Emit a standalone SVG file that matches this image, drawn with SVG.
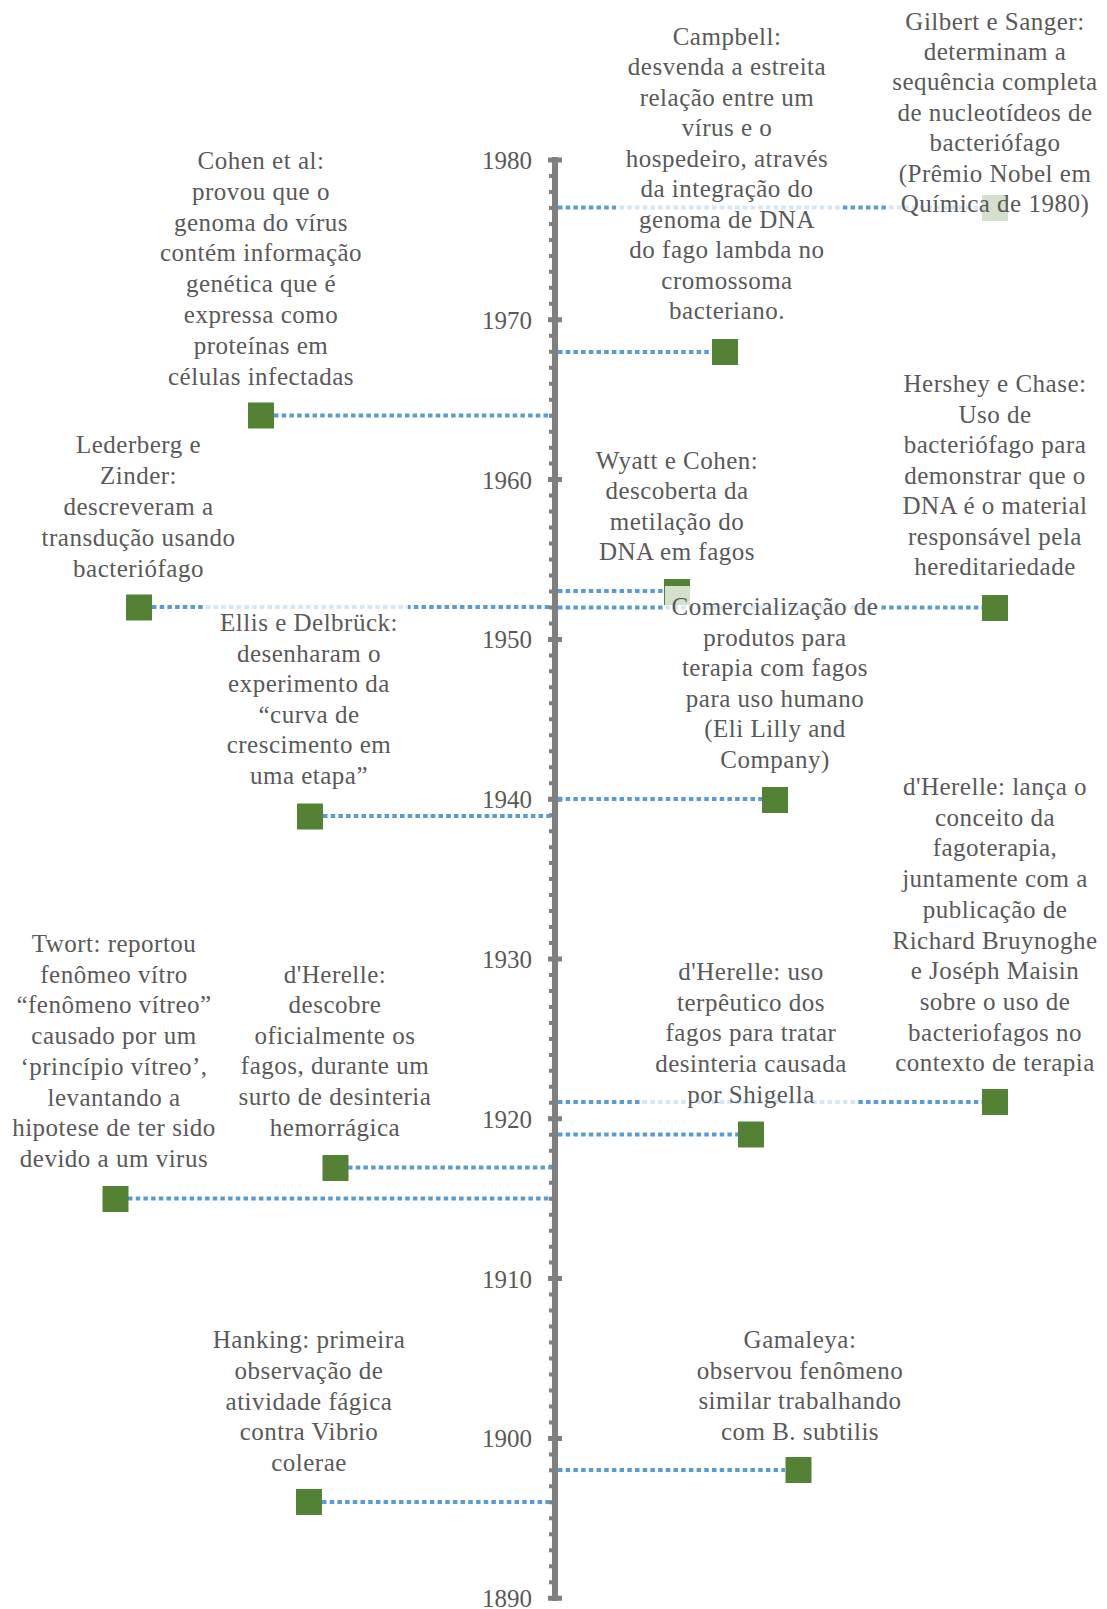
<svg xmlns="http://www.w3.org/2000/svg" width="1107" height="1609" viewBox="0 0 1107 1609">
<style>
.lbl{font-family:"Liberation Serif","Times New Roman",serif;font-size:25px;fill:#595959;text-anchor:middle;letter-spacing:0.5px}
.yr{font-family:"Liberation Serif","Times New Roman",serif;font-size:25px;fill:#595959;text-anchor:end}
.con{stroke:#5B9BD5;stroke-width:4;stroke-dasharray:4.5 3.2;fill:none}
.sq{fill:#548235}
.bg{fill:#FFFFFF;fill-opacity:0.75}
.ax{stroke:#7F7F7F;fill:none}
</style>
<rect width="1107" height="1609" fill="#FFFFFF"/>
<g id="axis">
<line class="ax" x1="555" y1="157" x2="555" y2="1601" stroke-width="6"/>
<line class="ax" x1="551" y1="158" x2="551" y2="1600" stroke-width="4" stroke-dasharray="4 11.98"/>
<path class="ax" stroke-width="5" d="M548 160H562M548 319.8H562M548 479.6H562M548 639.4H562M548 799.2H562M548 959H562M548 1118.8H562M548 1278.6H562M548 1438.4H562M548 1598.2H562"/>
<text class="yr" x="532" y="169">1980</text>
<text class="yr" x="532" y="329">1970</text>
<text class="yr" x="532" y="489">1960</text>
<text class="yr" x="532" y="648">1950</text>
<text class="yr" x="532" y="808">1940</text>
<text class="yr" x="532" y="968">1930</text>
<text class="yr" x="532" y="1128">1920</text>
<text class="yr" x="532" y="1288">1910</text>
<text class="yr" x="532" y="1447">1900</text>
<text class="yr" x="532" y="1607">1890</text>
</g>
<g id="connectors">
<line class="con" x1="558" y1="207.5" x2="982" y2="207.5"/>
<line class="con" x1="558" y1="352" x2="712" y2="352"/>
<line class="con" x1="274" y1="415.5" x2="552" y2="415.5"/>
<line class="con" x1="152" y1="607" x2="552" y2="607"/>
<line class="con" x1="558" y1="607.5" x2="982" y2="607.5"/>
<line class="con" x1="558" y1="591" x2="664" y2="591"/>
<line class="con" x1="558" y1="799" x2="762" y2="799"/>
<line class="con" x1="323" y1="816" x2="552" y2="816"/>
<line class="con" x1="558" y1="1102" x2="982" y2="1102"/>
<line class="con" x1="558" y1="1134.5" x2="738" y2="1134.5"/>
<line class="con" x1="348" y1="1167.5" x2="552" y2="1167.5"/>
<line class="con" x1="128" y1="1198.5" x2="552" y2="1198.5"/>
<line class="con" x1="558" y1="1470" x2="785" y2="1470"/>
<line class="con" x1="322" y1="1502" x2="552" y2="1502"/>
</g>
<g id="n-campbell">
<rect class="sq" x="712" y="339" width="26" height="26"/>
<rect class="bg" x="616" y="18" width="225" height="316"/>
<text class="lbl" y="44.5"><tspan x="727">Campbell:</tspan><tspan x="727" dy="30.5">desvenda a estreita</tspan><tspan x="727" dy="30.5">relação entre um</tspan><tspan x="727" dy="30.5">vírus e o</tspan><tspan x="727" dy="30.5">hospedeiro, através</tspan><tspan x="727" dy="30.5">da integração do</tspan><tspan x="727" dy="30.5">genoma de DNA</tspan><tspan x="727" dy="30.5">do fago lambda no</tspan><tspan x="727" dy="30.5">cromossoma</tspan><tspan x="727" dy="30.5">bacteriano.</tspan></text>
</g>
<g id="n-gilbert">
<rect class="sq" x="982" y="195" width="26" height="26"/>
<rect class="bg" x="887" y="4" width="218" height="220"/>
<text class="lbl" y="29.5"><tspan x="995">Gilbert e Sanger:</tspan><tspan x="995" dy="30.4">determinam a</tspan><tspan x="995" dy="30.4">sequência completa</tspan><tspan x="995" dy="30.4">de nucleotídeos de</tspan><tspan x="995" dy="30.4">bacteriófago</tspan><tspan x="995" dy="30.4">(Prêmio Nobel em</tspan><tspan x="995" dy="30.4">Química de 1980)</tspan></text>
</g>
<g id="n-cohen">
<rect class="sq" x="248" y="402.5" width="26" height="26"/>
<text class="lbl" y="169"><tspan x="261">Cohen et al:</tspan><tspan x="261" dy="30.8">provou que o</tspan><tspan x="261" dy="30.8">genoma do vírus</tspan><tspan x="261" dy="30.8">contém informação</tspan><tspan x="261" dy="30.8">genética que é</tspan><tspan x="261" dy="30.8">expressa como</tspan><tspan x="261" dy="30.8">proteínas em</tspan><tspan x="261" dy="30.8">células infectadas</tspan></text>
</g>
<g id="n-lederberg">
<rect class="sq" x="126" y="594.5" width="26" height="26"/>
<text class="lbl" y="453"><tspan x="138.5">Lederberg e</tspan><tspan x="138.5" dy="30.9">Zinder:</tspan><tspan x="138.5" dy="30.9">descreveram a</tspan><tspan x="138.5" dy="30.9">transdução usando</tspan><tspan x="138.5" dy="30.9">bacteriófago</tspan></text>
</g>
<g id="n-hershey">
<rect class="sq" x="982" y="595" width="26" height="26"/>
<text class="lbl" y="392"><tspan x="995">Hershey e Chase:</tspan><tspan x="995" dy="30.5">Uso de</tspan><tspan x="995" dy="30.5">bacteriófago para</tspan><tspan x="995" dy="30.5">demonstrar que o</tspan><tspan x="995" dy="30.5">DNA é o material</tspan><tspan x="995" dy="30.5">responsável pela</tspan><tspan x="995" dy="30.5">hereditariedade</tspan></text>
</g>
<g id="n-wyatt">
<rect class="sq" x="664" y="579" width="26" height="26"/>
<text class="lbl" y="468.5"><tspan x="677">Wyatt e Cohen:</tspan><tspan x="677" dy="30.5">descoberta da</tspan><tspan x="677" dy="30.5">metilação do</tspan><tspan x="677" dy="30.5">DNA em fagos</tspan></text>
</g>
<g id="n-lilly">
<rect class="sq" x="762" y="787" width="26" height="26"/>
<rect class="bg" x="665" y="586" width="215" height="194"/>
<text class="lbl" y="615"><tspan x="775">Comercialização de</tspan><tspan x="775" dy="30.6">produtos para</tspan><tspan x="775" dy="30.6">terapia com fagos</tspan><tspan x="775" dy="30.6">para uso humano</tspan><tspan x="775" dy="30.6">(Eli Lilly and</tspan><tspan x="775" dy="30.6">Company)</tspan></text>
</g>
<g id="n-ellis">
<rect class="sq" x="297" y="803.5" width="26" height="26"/>
<rect class="bg" x="205" y="600" width="203" height="192"/>
<text class="lbl" y="631"><tspan x="309">Ellis e Delbrück:</tspan><tspan x="309" dy="30.6">desenharam o</tspan><tspan x="309" dy="30.6">experimento da</tspan><tspan x="309" dy="30.6">“curva de</tspan><tspan x="309" dy="30.6">crescimento em</tspan><tspan x="309" dy="30.6">uma etapa”</tspan></text>
</g>
<g id="n-dherelle-lanca">
<rect class="sq" x="982" y="1089" width="26" height="26"/>
<text class="lbl" y="795"><tspan x="995">d'Herelle: lança o</tspan><tspan x="995" dy="30.7">conceito da</tspan><tspan x="995" dy="30.7">fagoterapia,</tspan><tspan x="995" dy="30.7">juntamente com a</tspan><tspan x="995" dy="30.7">publicação de</tspan><tspan x="995" dy="30.7">Richard Bruynoghe</tspan><tspan x="995" dy="30.7">e Joséph Maisin</tspan><tspan x="995" dy="30.7">sobre o uso de</tspan><tspan x="995" dy="30.7">bacteriofagos no</tspan><tspan x="995" dy="30.7">contexto de terapia</tspan></text>
</g>
<g id="n-dherelle-uso">
<rect class="sq" x="738" y="1121.5" width="26" height="26"/>
<rect class="bg" x="643" y="955" width="215" height="153"/>
<text class="lbl" y="980"><tspan x="751">d'Herelle: uso</tspan><tspan x="751" dy="30.7">terpêutico dos</tspan><tspan x="751" dy="30.7">fagos para tratar</tspan><tspan x="751" dy="30.7">desinteria causada</tspan><tspan x="751" dy="30.7">por Shigella</tspan></text>
</g>
<g id="n-dherelle-descobre">
<rect class="sq" x="322.5" y="1155" width="26" height="26"/>
<text class="lbl" y="982.5"><tspan x="335">d'Herelle:</tspan><tspan x="335" dy="30.6">descobre</tspan><tspan x="335" dy="30.6">oficialmente os</tspan><tspan x="335" dy="30.6">fagos, durante um</tspan><tspan x="335" dy="30.6">surto de desinteria</tspan><tspan x="335" dy="30.6">hemorrágica</tspan></text>
</g>
<g id="n-twort">
<rect class="sq" x="102.5" y="1186" width="26" height="26"/>
<text class="lbl" y="952"><tspan x="114">Twort: reportou</tspan><tspan x="114" dy="30.7">fenômeo vítro</tspan><tspan x="114" dy="30.7">“fenômeno vítreo”</tspan><tspan x="114" dy="30.7">causado por um</tspan><tspan x="114" dy="30.7">‘princípio vítreo’,</tspan><tspan x="114" dy="30.7">levantando a</tspan><tspan x="114" dy="30.7">hipotese de ter sido</tspan><tspan x="114" dy="30.7">devido a um virus</tspan></text>
</g>
<g id="n-gamaleya">
<rect class="sq" x="785.5" y="1457" width="26" height="26"/>
<text class="lbl" y="1348"><tspan x="800">Gamaleya:</tspan><tspan x="800" dy="30.5">observou fenômeno</tspan><tspan x="800" dy="30.5">similar trabalhando</tspan><tspan x="800" dy="30.5">com B. subtilis</tspan></text>
</g>
<g id="n-hanking">
<rect class="sq" x="296" y="1489" width="26" height="26"/>
<text class="lbl" y="1348"><tspan x="309">Hanking: primeira</tspan><tspan x="309" dy="30.8">observação de</tspan><tspan x="309" dy="30.8">atividade fágica</tspan><tspan x="309" dy="30.8">contra Vibrio</tspan><tspan x="309" dy="30.8">colerae</tspan></text>
</g>
</svg>
